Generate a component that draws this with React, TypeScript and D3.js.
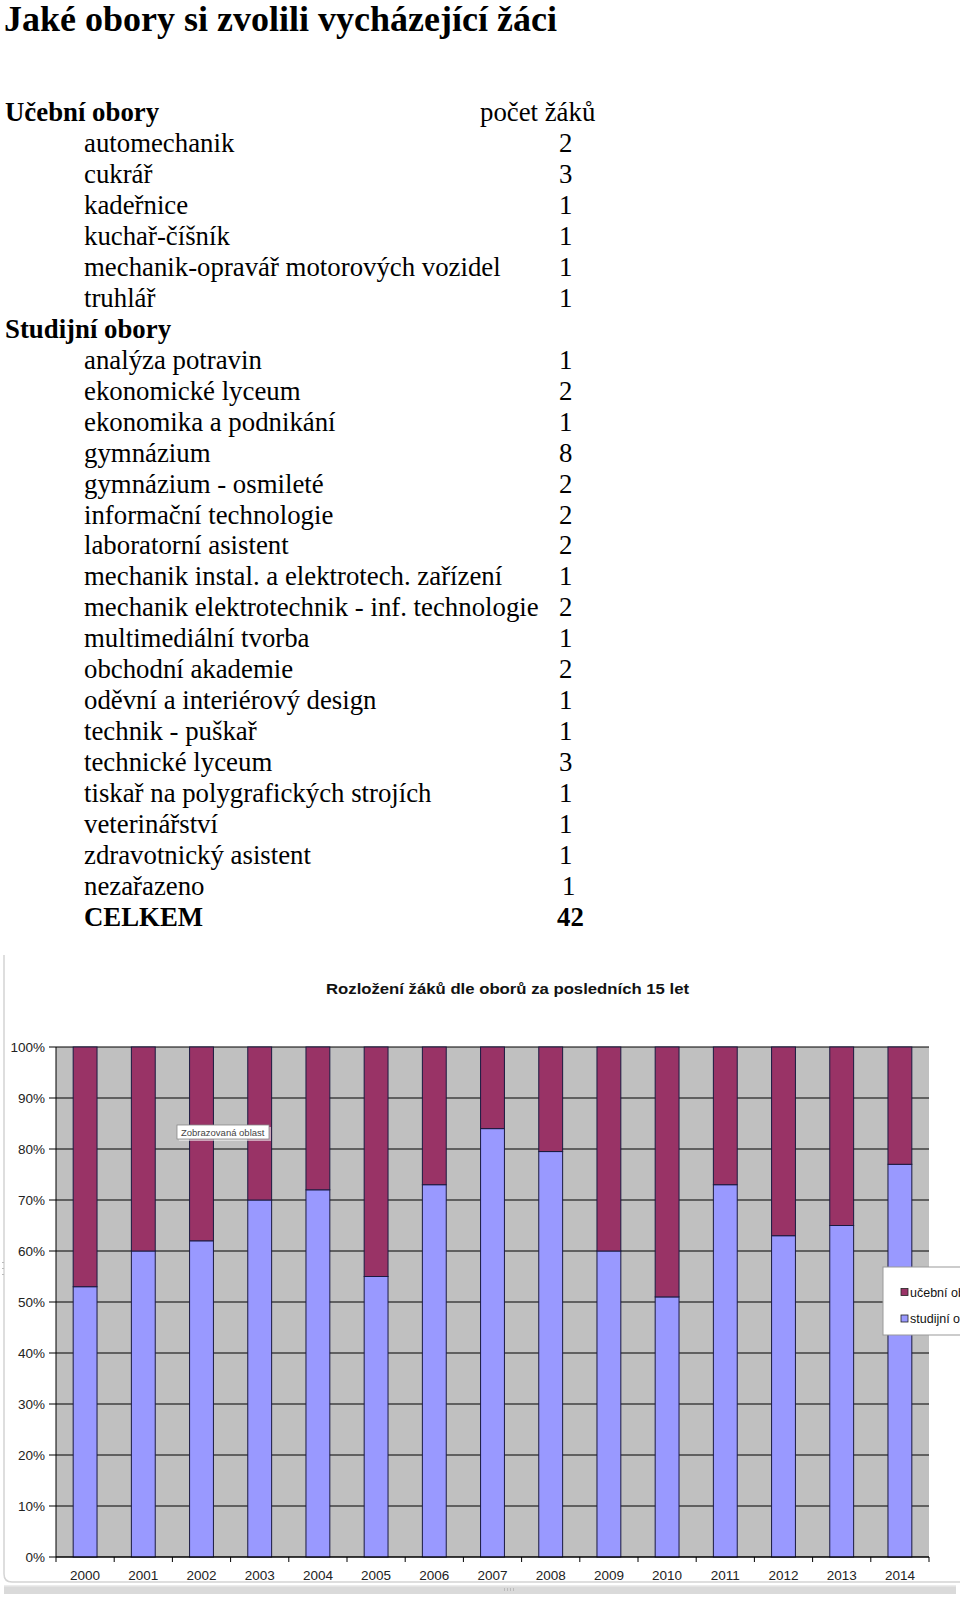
import React from "react";
import * as d3 from "d3";

const pageTitle = "Jaké obory si zvolili vycházející žáci";
const ucebniHeader = "Učební obory";
const countHeader = "počet žáků";
const ucebniNames = ["automechanik", "cukrář", "kadeřnice", "kuchař-číšník", "mechanik-opravář motorových vozidel", "truhlář"];
const ucebniCounts = [2, 3, 1, 1, 1, 1];
const studijniHeader = "Studijní obory";
const studijniNames = [
  "analýza potravin", "ekonomické lyceum", "ekonomika a podnikání", "gymnázium", "gymnázium - osmileté",
  "informační technologie", "laboratorní asistent", "mechanik instal. a elektrotech. zařízení",
  "mechanik elektrotechnik - inf. technologie", "multimediální tvorba", "obchodní akademie",
  "oděvní a interiérový design", "technik - puškař", "technické lyceum", "tiskař na polygrafických strojích",
  "veterinářství", "zdravotnický asistent",
];
const studijniCounts = [1, 2, 1, 8, 2, 2, 2, 1, 2, 1, 2, 1, 1, 3, 1, 1, 1];
const otherName = "nezařazeno";
const otherCount = 1;
const totalName = "CELKEM";
const totalCount = 42;

const chartTitle = "Rozložení žáků dle oborů za posledních 15 let";
const years = ["2000", "2001", "2002", "2003", "2004", "2005", "2006", "2007", "2008", "2009", "2010", "2011", "2012", "2013", "2014"];
const studijniPct = [53, 60, 62, 70, 72, 55, 73, 84, 79.5, 60, 51, 73, 63, 65, 77];
const ucebniPct = studijniPct.map((v) => 100 - v);
const yTicks = [0, 10, 20, 30, 40, 50, 60, 70, 80, 90, 100];
const legendLabels = ["učební obory", "studijní obory"];
const tooltipText = "Zobrazovaná oblast";

const SERIF = "'Liberation Serif', 'Times New Roman', serif";
const SANS = "'Liberation Sans', Arial, sans-serif";
const C_UCEBNI = "#993366";
const C_STUDIJNI = "#9999FF";

type Row = { label: string; value?: number; bold?: boolean; indent: boolean; dx?: number };

export default function App() {
  const rows: Row[] = [
    { label: ucebniHeader, bold: true, indent: false },
    ...ucebniNames.map((n, i) => ({ label: n, value: ucebniCounts[i], indent: true })),
    { label: studijniHeader, bold: true, indent: false },
    ...studijniNames.map((n, i) => ({ label: n, value: studijniCounts[i], indent: true })),
    { label: otherName, value: otherCount, indent: true, dx: 3 },
    { label: totalName, value: totalCount, bold: true, indent: true, dx: -2 },
  ];
  const rowY = d3.scaleLinear().domain([0, rows.length - 1]).range([121, 926]);

  // chart
  const x = d3.scaleBand<string>().domain(years).range([56, 929]).paddingInner(0.59).paddingOuter(0.295);
  const y = d3.scaleLinear().domain([0, 100]).range([1557, 1047]);
  const data = years.map((yr, i) => ({ year: yr, studijni: studijniPct[i], ucebni: ucebniPct[i] }));
  const stack = d3.stack<any>().keys(["studijni", "ucebni"]);
  const series = stack(data);
  const colors: Record<string, string> = { studijni: C_STUDIJNI, ucebni: C_UCEBNI };
  const step = x.step();
  const boundaries = d3.range(years.length + 1).map((i) => 56 + i * step);

  return (
    <div style={{ position: "absolute", left: 0, top: 0, width: 960, height: 1598, overflow: "hidden", background: "#fff" }}>
      <svg width={960} height={1598} style={{ display: "block" }}>
        <rect x={0} y={0} width={960} height={1598} fill="#fff" />
        <text x={4} y={31} fontFamily={SERIF} fontWeight="bold" fontSize={36} fill="#000">{pageTitle}</text>
        <text x={480} y={rowY(0)} fontFamily={SERIF} fontSize={26.8} fill="#000">{countHeader}</text>
        {rows.map((r, i) => (
          <g key={i}>
            <text x={r.indent ? 84 : 5} y={rowY(i)} fontFamily={SERIF} fontSize={26.8} fontWeight={r.bold ? "bold" : "normal"} fill="#000">{r.label}</text>
            {r.value !== undefined && (
              <text x={559 + (r.dx || 0)} y={rowY(i)} fontFamily={SERIF} fontSize={26.8} fontWeight={r.bold ? "bold" : "normal"} fill="#000">{r.value}</text>
            )}
          </g>
        ))}

        {/* chart frame */}
        <path d="M 4 955 L 4 1574 Q 4 1582 12 1582 L 960 1582" fill="none" stroke="#d4d4d4" strokeWidth={1.5} />
        <rect x={4} y={1585} width={952} height={9} fill="#dadada" />
        <rect x={4} y={1585} width={952} height={1.5} fill="#ececec" />
        <g fill="#bbb">
          {[1262, 1268, 1274].map((yy) => <rect key={yy} x={2} y={yy} width={2} height={1} />)}
          {[504, 507, 510, 513].map((xx) => <rect key={xx} x={xx} y={1588} width={1} height={3} />)}
        </g>

        <text x={507.5} y={994} textAnchor="middle" fontFamily={SANS} fontWeight="bold" fontSize={15} fill="#111" textLength={363} lengthAdjust="spacingAndGlyphs">{chartTitle}</text>

        {/* plot area */}
        <rect x={56} y={y(100)} width={929 - 56} height={y(0) - y(100)} fill="#C0C0C0" />
        {yTicks.map((t) => (
          <g key={t}>
            <line x1={49} x2={929} y1={y(t)} y2={y(t)} stroke="#000" strokeWidth={1.2} />
            <text x={45} y={y(t) + 4.5} textAnchor="end" fontFamily={SANS} fontSize={13.5} fill="#222">{t}%</text>
          </g>
        ))}
        <line x1={56} x2={56} y1={y(100)} y2={y(0)} stroke="#000" strokeWidth={1} />
        {series.map((s) => (
          <g key={s.key} fill={colors[s.key]}>
            {s.map((d, i) => (
              <rect key={i} x={x(years[i])} y={y(d[1])} width={x.bandwidth()} height={y(d[0]) - y(d[1])} stroke="#1a1a40" strokeWidth={1} />
            ))}
          </g>
        ))}
        <line x1={56} x2={929} y1={y(0)} y2={y(0)} stroke="#000" strokeWidth={1.2} />
        {boundaries.map((bx, i) => (
          <line key={i} x1={bx} x2={bx} y1={y(0)} y2={y(0) + 5} stroke="#000" strokeWidth={1} />
        ))}
        {years.map((yr) => (
          <text key={yr} x={(x(yr) as number) + x.bandwidth() / 2} y={1580} textAnchor="middle" fontFamily={SANS} fontSize={13.5} fill="#222">{yr}</text>
        ))}

        {/* tooltip */}
        <rect x={178} y={1126} width={92} height={14} fill="#f0f0f0" opacity={0.6} transform="translate(1,1)" />
        <rect x={177} y={1125} width={92} height={14} fill="#fff" stroke="#888" strokeWidth={0.8} />
        <text x={181} y={1135.5} fontFamily={SANS} fontSize={9.5} fill="#444">{tooltipText}</text>

        {/* legend (cut off by the right edge, as in the reference) */}
        <rect x={883} y={1267} width={90} height={68} fill="#fff" stroke="#999" strokeWidth={1} />
        {legendLabels.map((l, i) => (
          <g key={l}>
            <rect x={901} y={(i === 0 ? 1292 : 1318.5) - 3.5} width={7} height={7} fill={i === 0 ? C_UCEBNI : C_STUDIJNI} stroke="#222" strokeWidth={0.8} />
            <text x={910} y={(i === 0 ? 1292 : 1318.5) + 4.5} fontFamily={SANS} fontSize={12.5} fill="#111">{l}</text>
          </g>
        ))}
      </svg>
    </div>
  );
}
